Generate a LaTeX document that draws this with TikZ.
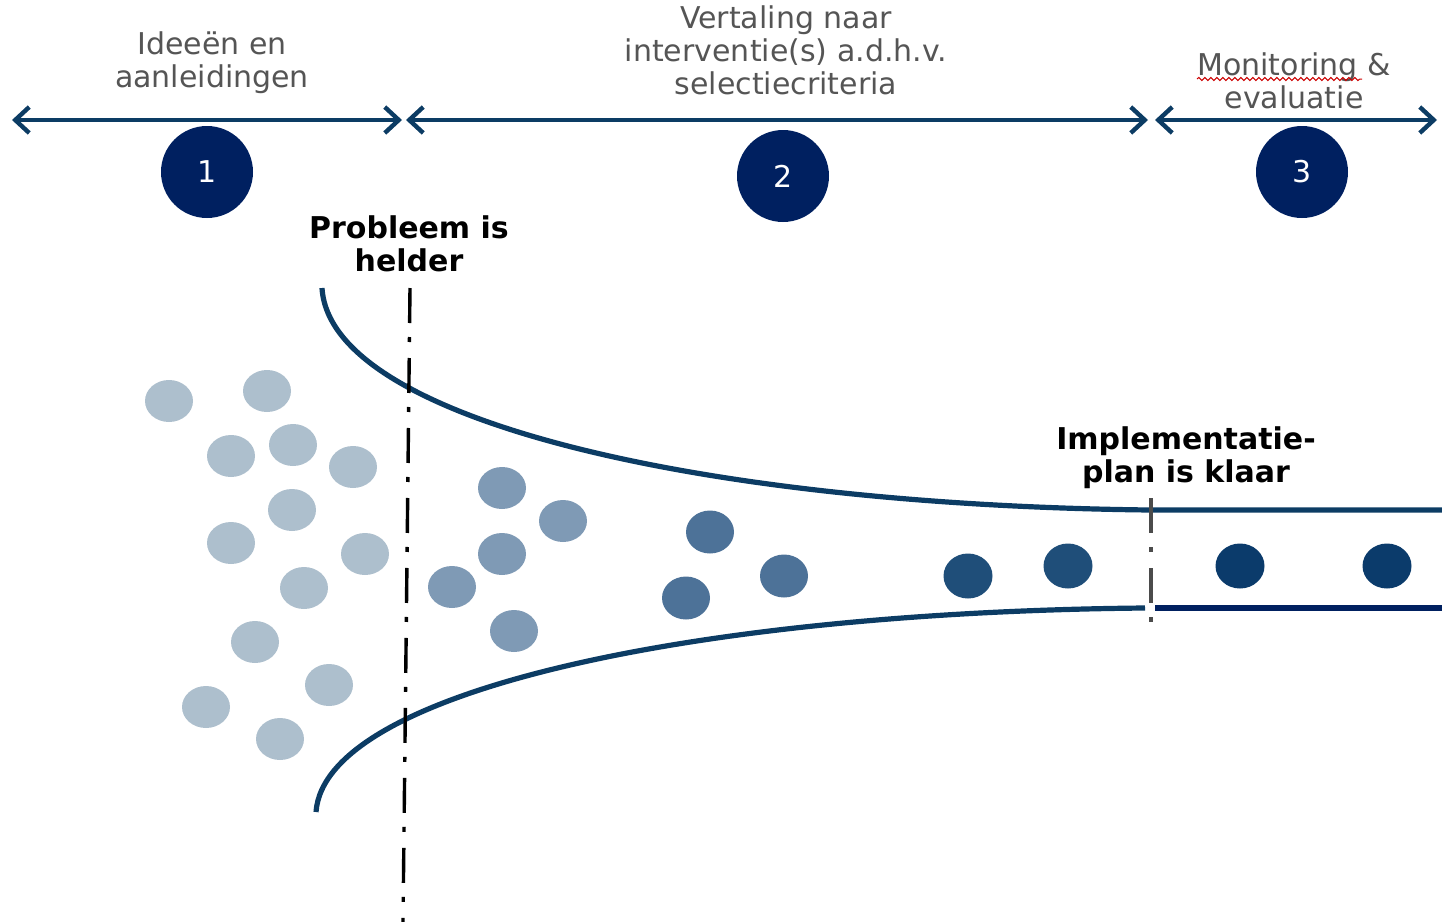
\documentclass[tikz,border=0pt]{standalone}
\usepackage{fontspec}
\setmainfont{DejaVu Sans}
\usetikzlibrary{arrows.meta,decorations.pathmorphing}
\definecolor{navy}{RGB}{0,32,96}
\definecolor{lineblue}{RGB}{12,60,100}
\definecolor{labelgray}{RGB}{85,85,85}
\definecolor{cutgray}{RGB}{75,75,75}
\definecolor{dotA}{RGB}{173,191,205}
\definecolor{dotB}{RGB}{127,154,181}
\definecolor{dotC}{RGB}{77,114,152}
\definecolor{dotD}{RGB}{31,78,121}
\definecolor{dotE}{RGB}{11,59,107}
\newcommand{\labelfont}{\fontsize{15}{16.5}\selectfont}

\begin{document}
\begin{tikzpicture}[x=0.5pt,y=-0.5pt,
  phase/.style={text=labelgray,align=center,font=\labelfont},
  milestone/.style={align=center,font=\bfseries\labelfont},
  stepnum/.style={circle,fill=navy,minimum size=46pt,inner sep=0pt,text=white,font=\labelfont},
  span/.style={lineblue,line width=2.2pt,{Straight Barb[length=7pt,width=13pt]}-{Straight Barb[length=7pt,width=13pt]}},
  funnel/.style={lineblue,line width=2.6pt},
  cut/.style={line width=1.7pt,dash pattern=on 17.5pt off 7pt on 2.5pt off 8pt},
  squiggle/.style={red!80!black,line width=0.5pt,decorate,decoration={snake,amplitude=0.8pt,segment length=3pt}}]
  \useasboundingbox (0,0) rectangle (1442,922);

  \node[phase] (idea) at (212,63) {Ideeën en\\aanleidingen};
  \node[phase] (transl) at (786,50) {Vertaling naar\\interventie(s) a.d.h.v.\\selectiecriteria};
  \node[phase] (monit) at (1294,81) {Monitoring \&\\evaluatie};
  \draw[squiggle] (1197,79) -- (1362,79);

  \coordinate (a0) at (12,120);
  \coordinate (a1) at (402,120);
  \coordinate (b0) at (406,120);
  \coordinate (b1) at (1148,120);
  \coordinate (c0) at (1155,120);
  \coordinate (c1) at (1437,120);
  \draw[span] (a0) -- (a1);
  \draw[span] (b0) -- (b1);
  \draw[span] (c0) -- (c1);

  \node[stepnum] (s1) at (207,172) {1};
  \node[stepnum] (s2) at (783,176) {2};
  \node[stepnum] (s3) at (1302,172) {3};

  \node[milestone] (clear) at (409,244) {Probleem is\\helder};
  \node[milestone] (ready) at (1186,458) {Implementatie-\\plan is klaar};

  \draw[funnel] (322,288) .. controls (330,420) and (700,505) .. (1150,510) -- (1442,510);
  \draw[funnel] (316,812) .. controls (325,690) and (700,612) .. (1145,608);
  \draw[funnel,navy,line width=2.8pt] (1155,608) -- (1442,608);

  \foreach \x/\y in {169/401,267/391,231/456,293/445,353/467,292/510,231/543,
                     365/554,304/588,255/642,329/685,206/707,280/739}
    \fill[dotA] (\x,\y) ellipse (24 and 21);
  \foreach \x/\y in {502/488,563/521,502/554,452/587,514/631}
    \fill[dotB] (\x,\y) ellipse (24 and 21);
  \foreach \x/\y in {710/532,784/576,686/598}
    \fill[dotC] (\x,\y) ellipse (24 and 21.5);
  \foreach \x/\y in {968/576,1068/566}
    \fill[dotD] (\x,\y) ellipse (24.5 and 22.5);
  \foreach \x/\y in {1240/566,1387/566}
    \fill[dotE] (\x,\y) ellipse (24.5 and 22.5);

  \draw[cut] (410,288) -- (403,922);
  \draw[cut,cutgray] (1151,498) -- (1151,625);
\end{tikzpicture}
\end{document}
